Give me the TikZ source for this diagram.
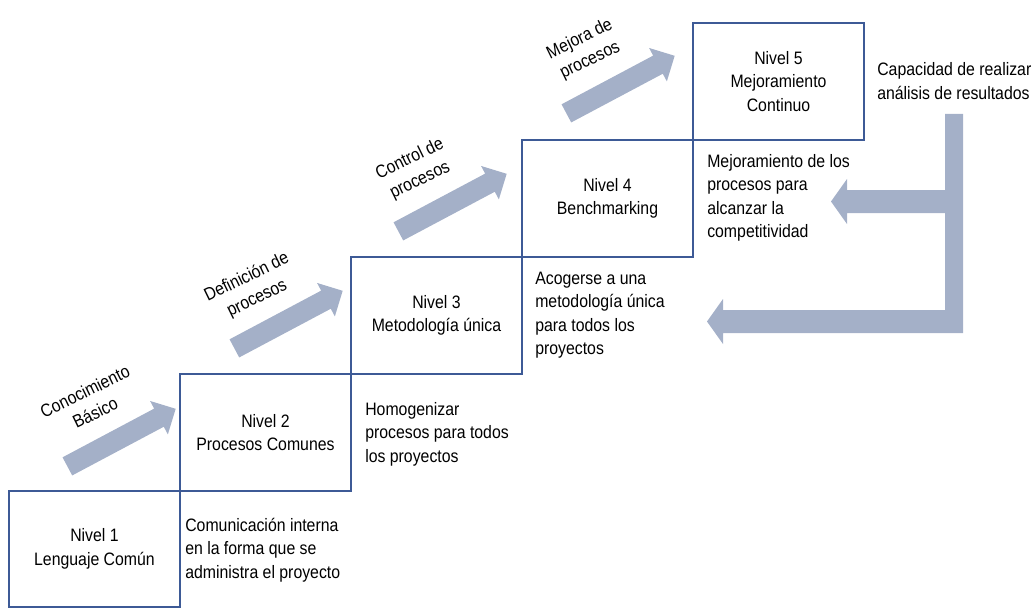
\documentclass[tikz,border=0pt]{standalone}
\usepackage{fontspec}
\setmainfont[FakeStretch=0.88]{Liberation Sans}
\usetikzlibrary{shapes.arrows}
\definecolor{linea}{RGB}{61,90,150}
\definecolor{gris}{RGB}{164,176,200}

\begin{document}
\begin{tikzpicture}[
            x=0.75pt, y=-0.75pt,
            texto/.style={font=\fontsize{13.5pt}{17.6pt}\selectfont},
            nivel/.style={texto, draw=linea, line width=1.1pt, align=center,
                inner sep=0pt, minimum width=128.25pt, minimum height=87.75pt},
            desc/.style={texto, anchor=west, align=left, inner sep=0pt},
            flecha/.style={single arrow, fill=gris, draw=none, inner sep=7.5pt,
                minimum height=92pt, single arrow head extend=6.5pt, rotate=28},
            etiqueta/.style={texto, align=center, inner sep=0pt, rotate=26}
        ]
            \useasboundingbox (0,0) rectangle (1033,610);

            % 五个层级方框
            \node[nivel, minimum height=87pt] (n1) at (94.5,549) {Nivel 1\\Lenguaje Común};
            \node[nivel] (n2) at (265.5,432.5) {Nivel 2\\Procesos Comunes};
            \node[nivel] (n3) at (436.5,315.5) {Nivel 3\\Metodología única};
            \node[nivel] (n4) at (607.5,198.5) {Nivel 4\\Benchmarking};
            \node[nivel] (n5) at (778.5,81.5) {Nivel 5\\Mejoramiento\\Continuo};

            % 方框右侧的说明
            \node[desc] (d1) at (185,550) {Comunicación interna\\en la forma que se\\administra el proyecto};
            \node[desc] (d2) at (365,434) {Homogenizar\\procesos para todos\\los proyectos};
            \node[desc] (d3) at (535,315) {Acogerse a una\\metodología única\\para todos los\\proyectos};
            \node[desc] (d4) at (707,198) {Mejoramiento de los\\procesos para\\alcanzar la\\competitividad};
            \node[desc] (d5) at (877,81) {Capacidad de realizar\\análisis de resultados};

            % 斜向箭头
            \node[flecha] (a1) at (117,440) {};
            \node[flecha] (a2) at (284,322) {};
            \node[flecha] (a3) at (448,205) {};
            \node[flecha] (a4) at (616,87) {};

            \node[etiqueta] (e1) at (90,402) {Conocimiento\\Básico};
            \node[etiqueta] (e2) at (252,288) {Definición de\\procesos};
            \node[etiqueta] (e3) at (415,170) {Control de\\procesos};
            \node[etiqueta] (e4) at (585,50) {Mejora de\\procesos};

            % 右侧回馈箭头
            \fill[gris] (945,114) -- (963,114) -- (963,333) -- (723,333) -- (723,344)
                -- (707,321.5) -- (723,299) -- (723,310) -- (945,310) -- (945,213)
                -- (847,213) -- (847,224) -- (831,201.5) -- (847,179) -- (847,190)
                -- (945,190) -- cycle;

        \end{tikzpicture}
\end{document}
